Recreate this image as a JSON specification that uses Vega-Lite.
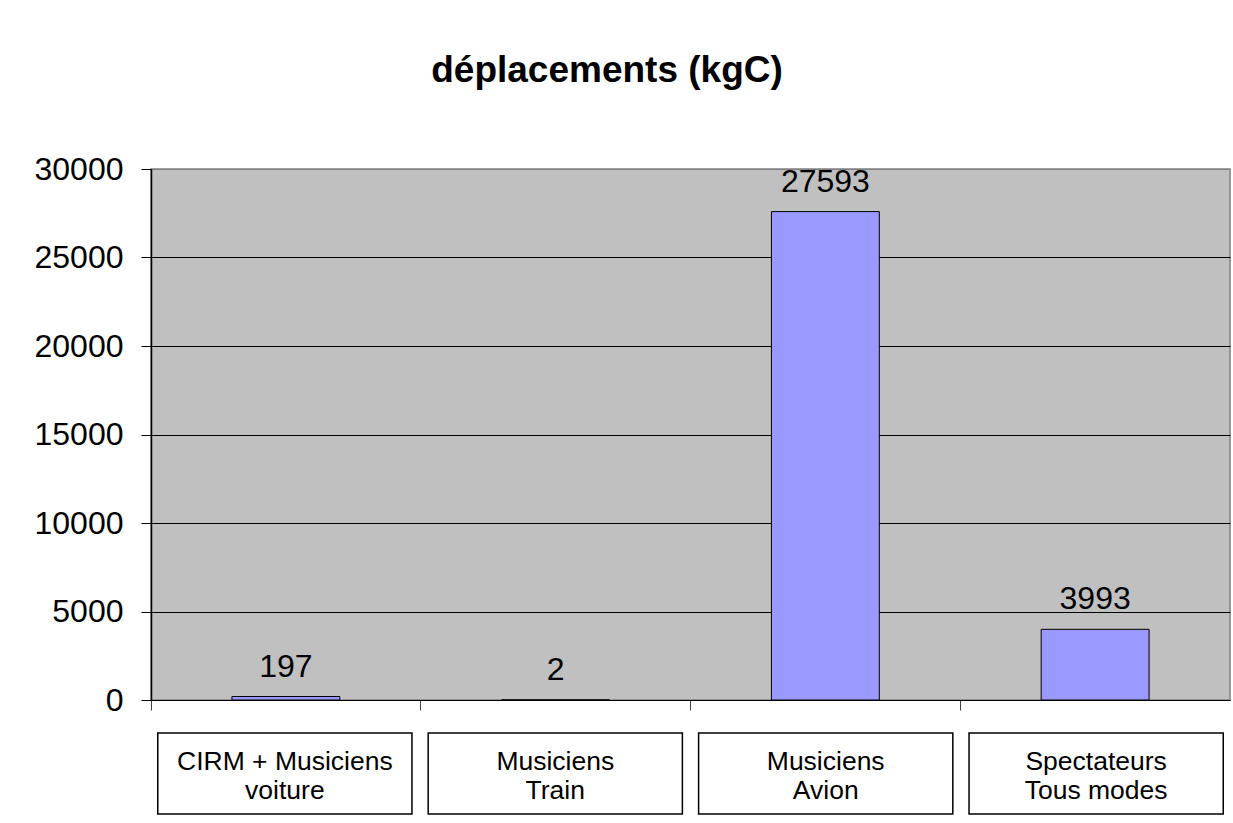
{
  "$schema": "https://vega.github.io/schema/vega-lite/v6.json",
  "padding": {"left": 33, "top": 52, "right": 0, "bottom": 0},
  "background": "white",
  "title": {"text": "déplacements (kgC)", "fontSize": 37, "fontWeight": "bold", "font": "Liberation Sans", "color": "black", "anchor": "middle", "offset": 62, "dx": -25},
  "datasets": {
    "d": [
      {"cat": "CIRM + Musiciens voiture", "value": 197, "label": ["CIRM + Musiciens", "voiture"]},
      {"cat": "Musiciens Train", "value": 2, "label": ["Musiciens", "Train"]},
      {"cat": "Musiciens Avion", "value": 27593, "label": ["Musiciens", "Avion"]},
      {"cat": "Spectateurs Tous modes", "value": 3993, "label": ["Spectateurs", "Tous modes"]}
    ]
  },
  "spacing": 15,
  "vconcat": [
    {
      "width": 1079,
      "height": 531,
      "data": {"name": "d"},
      "view": {"fill": "#C0C0C0", "stroke": "#808080", "strokeWidth": 1.5},
      "encoding": {
        "x": {
          "field": "cat", "type": "nominal", "sort": null,
          "scale": {"paddingInner": 0, "paddingOuter": 0},
          "axis": {"title": null, "labels": false, "bandPosition": 0, "tickSize": 10, "tickColor": "#404040", "domainColor": "black", "domainWidth": 1, "grid": false}
        }
      },
      "layer": [
        {
          "mark": {"type": "bar", "width": {"band": 0.4}, "fill": "#9999FF", "stroke": "black", "strokeWidth": 1},
          "encoding": {
            "y": {
              "field": "value", "type": "quantitative",
              "scale": {"domain": [0, 30000], "nice": false},
              "axis": {"title": null, "format": "d", "values": [0, 5000, 10000, 15000, 20000, 25000, 30000], "labelFontSize": 32, "labelFont": "Liberation Sans", "labelColor": "black", "tickColor": "black", "tickSize": 10, "labelPadding": 18, "domainColor": "black", "domainWidth": 1.5, "grid": true, "gridColor": {"condition": {"test": "datum.value == 30000", "value": "#808080"}, "value": "black"}, "gridWidth": 1, "gridOpacity": 1}
            }
          }
        },
        {
          "mark": {"type": "text", "fontSize": 32, "font": "Liberation Sans", "color": "black", "baseline": "bottom", "dy": -13},
          "encoding": {
            "y": {"field": "value", "type": "quantitative"},
            "text": {"field": "value", "type": "quantitative", "format": "d"}
          }
        }
      ]
    },
    {
      "width": 1079,
      "height": 81,
      "data": {"name": "d"},
      "view": {"stroke": null},
      "encoding": {
        "x": {
          "field": "cat", "type": "nominal", "sort": null,
          "scale": {"paddingInner": 0.06, "paddingOuter": 0.025},
          "axis": null
        }
      },
      "layer": [
        {"mark": {"type": "bar", "fill": "white", "stroke": "black", "strokeWidth": 1.5}},
        {
          "mark": {"type": "text", "fontSize": 26.5, "font": "Liberation Sans", "color": "black", "baseline": "middle", "lineHeight": 29, "dy": -12},
          "encoding": {"text": {"field": "label"}}
        }
      ]
    }
  ]
}
